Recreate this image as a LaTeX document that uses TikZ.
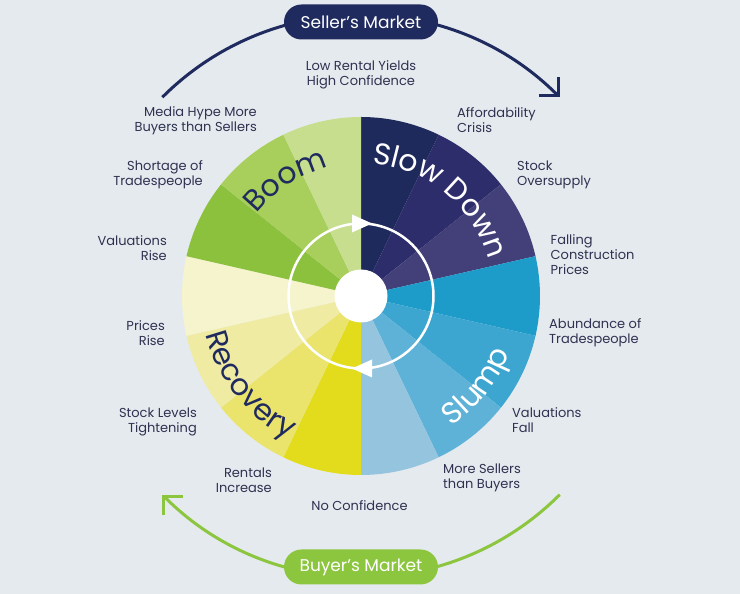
\documentclass[tikz,border=0pt]{standalone}
\usepackage{fontspec}
\setmainfont{Poppins}
\usetikzlibrary{decorations.text,arrows.meta}
\definecolor{bg}{HTML}{E5EAEF}
\definecolor{lbltxt}{HTML}{2E3250}
\definecolor{navy}{HTML}{1F2A5E}
\definecolor{lime}{HTML}{8CC63F}
\definecolor{sdA}{HTML}{1F2A5C}
\definecolor{sdB}{HTML}{2D2D6B}
\definecolor{sdC}{HTML}{433F79}
\definecolor{slA}{HTML}{1E9CC9}
\definecolor{slB}{HTML}{3CA6D1}
\definecolor{slC}{HTML}{5EB2D8}
\definecolor{slD}{HTML}{94C4DE}
\definecolor{rcD}{HTML}{E2DC1C}
\definecolor{rcC}{HTML}{EAE46C}
\definecolor{rcB}{HTML}{EFEBA3}
\definecolor{rcA}{HTML}{F6F4CC}
\definecolor{bmC}{HTML}{8CC13E}
\definecolor{bmB}{HTML}{A8CE5B}
\definecolor{bmA}{HTML}{C6DE8E}
\newcommand\wheelfont{\fontsize{30}{30}\selectfont}
\tikzset{
  lbl/.style={font=\fontsize{13}{15}\selectfont, text=lbltxt, inner sep=0pt},
  lblL/.style={lbl, align=left, anchor=west},
  lblR/.style={lbl, align=right, anchor=east},
  lblC/.style={lbl, align=center, anchor=center},
  pill/.style={rounded corners=17.5pt, minimum width=154pt, minimum height=35pt, inner sep=0pt, font=\fontsize{17}{17}\selectfont, text=white},
  marketarc/.style={line width=3pt, -{Straight Barb[angle=90:19pt]}},
  ringtri/.style={fill=white},
}
\begin{document}
\begin{tikzpicture}[x=1pt,y=1pt]
\fill[bg] (0,0) rectangle (740,594);
\useasboundingbox (0,0) rectangle (740,594);
\begin{scope}[shift={(361,298)}]
  % wedges
  \foreach \c [count=\i from 0] in {sdA,sdB,sdC,slA,slB,slC,slD,rcD,rcC,rcB,rcA,bmC,bmB,bmA} {
    \pgfmathsetmacro\a{90-\i*360/14}
    \pgfmathsetmacro\b{90-(\i+1)*360/14}
    \fill[\c] (0,0) -- (\a:179pt) arc[start angle=\a, end angle=\b, radius=179pt] -- cycle;
  }
  % ring and centre
  \draw[white, line width=2.5pt] (0,0) circle[radius=72.5pt];
  \fill[ringtri] (-9,81.5) -- (-9,63.5) -- (11,72.5) -- cycle;
  \fill[ringtri] (11,-63.5) -- (11,-81.5) -- (-9,-72.5) -- cycle;
  \node[circle, fill=white, minimum size=53pt, inner sep=0pt] (hub) at (0,0) {};
  % curved titles
  \path[decorate, decoration={text along path, text align=center, text color=white, text={|\wheelfont|Slow Down}}]
    (95:133pt) arc[start angle=95, end angle=6, radius=133pt];
  \path[decorate, decoration={text along path, text align=center, text color=navy, text={|\wheelfont|Boom}}]
    (150:133pt) arc[start angle=150, end angle=96, radius=133pt];
  \path[decorate, decoration={text along path, text align=center, text color=navy, text={|\wheelfont|Recovery}}]
    (180:160pt) arc[start angle=180, end angle=257, radius=160pt];
  \path[decorate, decoration={text along path, text align=center, text color=white, text={|\wheelfont|Slump}}]
    (-65:159pt) arc[start angle=-65, end angle=-11, radius=159pt];
  % market arcs
  \coordinate (sellA) at (135:281pt);
  \coordinate (buyA) at (-45:281pt);
  \draw[navy, marketarc] (sellA) arc[start angle=135, end angle=45, radius=281pt];
  \draw[lime, marketarc] (buyA) arc[start angle=-45, end angle=-135, radius=281pt];
  \node[pill, fill=navy] (seller) at (0,274) {Seller’s Market};
  \node[pill, fill=lime] (buyer) at (0,-271) {Buyer’s Market};
\end{scope}
% labels (pixel positions, y measured from top)
\node[lblC] (l0) at (361,594-75) {Low Rental Yields\\High Confidence};
\node[lblL] (l1) at (457,594-120) {Affordability\\Crisis};
\node[lblL] (l2) at (517,594-175) {Stock\\Oversupply};
\node[lblL] (l3) at (550.5,594-255) {Falling\\Construction\\Prices};
\node[lblL] (l4) at (549,594-333) {Abundance of\\Tradespeople};
\node[lblL] (l5) at (512,594-420) {Valuations\\Fall};
\node[lblL] (l6) at (443,594-478) {More Sellers\\than Buyers};
\node[lblC] (l7) at (359.5,594-506) {No Confidence};
\node[lblR] (l8) at (272,594-480) {Rentals\\Increase};
\node[lblR] (l9) at (197,594-422) {Stock Levels\\Tightening};
\node[lblR] (l10) at (165,594-333) {Prices\\Rise};
\node[lblR] (l11) at (167,594-248) {Valuations\\Rise};
\node[lblR] (l12) at (203,594-175) {Shortage of\\Tradespeople};
\node[lblR] (l13) at (257,594-121) {Media Hype More\\Buyers than Sellers};
\end{tikzpicture}
\end{document}
